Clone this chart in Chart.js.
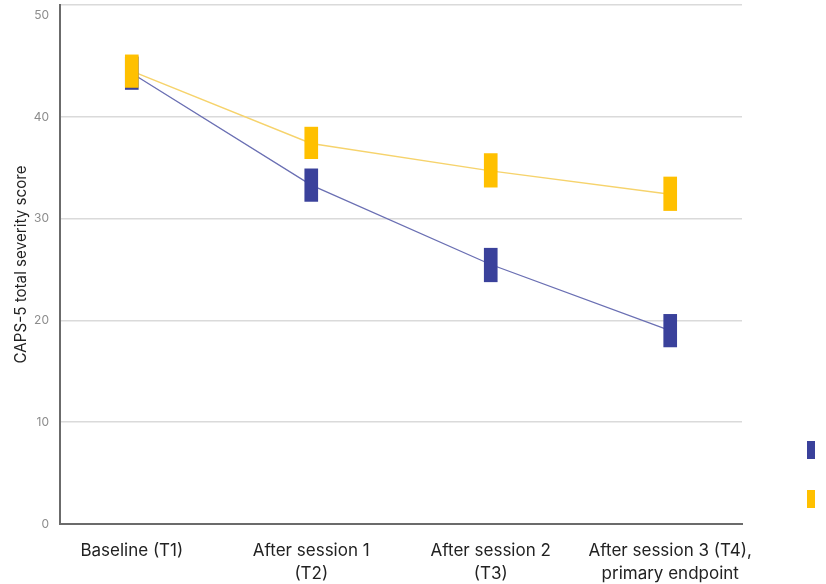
<!DOCTYPE html>
<html><head><meta charset="utf-8">
<script src="https://cdn.jsdelivr.net/npm/chart.js@4/dist/chart.umd.min.js"></script>
<style>html,body{margin:0;padding:0;background:#fff;overflow:hidden}#wrap{width:826px;height:584px;position:relative}</style>
</head><body><div id="wrap"><canvas id="c"></canvas></div>
<script>
const categories = [["Baseline (T1)"], ["After session 1", "(T2)"], ["After session 2", "(T3)"], ["After session 3 (T4),", "primary endpoint"]];
const xIdx = [0, 1, 2, 3];
const seriesNames = ["MDMA-assisted therapy", "Placebo with therapy"];
const mdmaMean = [44.3, 33.3, 25.5, 19.0];
const mdmaLow = [42.7, 31.7, 23.8, 17.4];
const mdmaHigh = [45.9, 34.9, 27.1, 20.6];
const placeboMean = [44.5, 37.4, 34.7, 32.4];
const placeboLow = [42.9, 35.9, 33.1, 30.8];
const placeboHigh = [46.1, 39.0, 36.4, 34.1];
const yTicks = [0, 10, 20, 30, 40, 50];
const yMax = 51;

const BLUE = '#3A419B', YELLOW = '#FFC000';
const FONT = 'Inter, "Noto Sans", sans-serif';

new Chart(document.getElementById('c'), {
  type: 'bar',
  data: {
    datasets: [
      { type: 'bar', label: seriesNames[0], data: xIdx.map((x, i) => ({ x, y: [mdmaLow[i], mdmaHigh[i]] })),
        backgroundColor: BLUE, borderWidth: 0, barThickness: 13, grouped: false, order: 2 },
      { type: 'bar', label: seriesNames[1], data: xIdx.map((x, i) => ({ x, y: [placeboLow[i], placeboHigh[i]] })),
        backgroundColor: YELLOW, borderWidth: 0, barThickness: 13, grouped: false, order: 1 },
      { type: 'line', label: seriesNames[0] + ' mean', data: xIdx.map((x, i) => ({ x, y: mdmaMean[i] })),
        borderColor: '#6A6FB3', borderWidth: 1.3, pointRadius: 0, fill: false, order: 4 },
      { type: 'line', label: seriesNames[1] + ' mean', data: xIdx.map((x, i) => ({ x, y: placeboMean[i] })),
        borderColor: '#F6D36C', borderWidth: 1.5, pointRadius: 0, fill: false, order: 3 }
    ]
  },
  options: {
    responsive: true, maintainAspectRatio: false, animation: false,
    layout: { padding: { top: 5, left: 0, right: 0, bottom: 0 } },
    plugins: {
      legend: {
        position: 'right', align: 'end', fullSize: false, maxWidth: 20,
        labels: { boxWidth: 8, boxHeight: 18, padding: 1, font: { size: 48, family: FONT }, color: '#222',
          filter: it => it.datasetIndex < 2, sort: (a, b) => a.datasetIndex - b.datasetIndex }
      },
      tooltip: { enabled: false }
    },
    scales: {
      x: {
        type: 'linear', min: -0.4, max: 3.4, offset: false,
        afterBuildTicks: s => { s.ticks = xIdx.map(v => ({ value: v })); },
        ticks: { callback: v => categories[v], maxRotation: 0, minRotation: 0, autoSkip: false, padding: 15,
          color: '#222', font: { family: FONT, size: 17, lineHeight: 1.35 } },
        grid: { display: false, drawTicks: false },
        border: { color: '#6b6b6b', width: 2 },
        afterFit: s => { s.height = 60; s.paddingLeft = 0; s.paddingRight = 0; }
      },
      y: {
        min: 0, max: yMax,
        afterBuildTicks: s => { s.ticks = yTicks.concat([yMax]).map(v => ({ value: v })); },
        ticks: { callback: v => (yTicks.includes(v) ? String(v) : ''), color: '#8c8c8c', padding: 11,
          font: { family: FONT, size: 12 } },
        grid: { drawTicks: false, lineWidth: 1.5,
          color: c => (c.tick && c.tick.value === 50 ? 'rgba(0,0,0,0)' : '#dadada') },
        border: { color: '#6b6b6b', width: 2 },
        title: { display: true, text: 'CAPS-5 total severity score', color: '#222',
          font: { family: FONT, size: 15.2 }, padding: { top: 12, bottom: 0 } },
        afterFit: s => { s.width = 60; s.paddingTop = 0; s.paddingBottom = 0; }
      },
      y2: {
        position: 'right', display: true,
        grid: { display: false, drawTicks: false }, ticks: { display: false }, border: { display: false },
        afterFit: s => { s.width = 64; s.paddingTop = 0; s.paddingBottom = 0; }
      }
    }
  }
});
</script>
</body></html>
